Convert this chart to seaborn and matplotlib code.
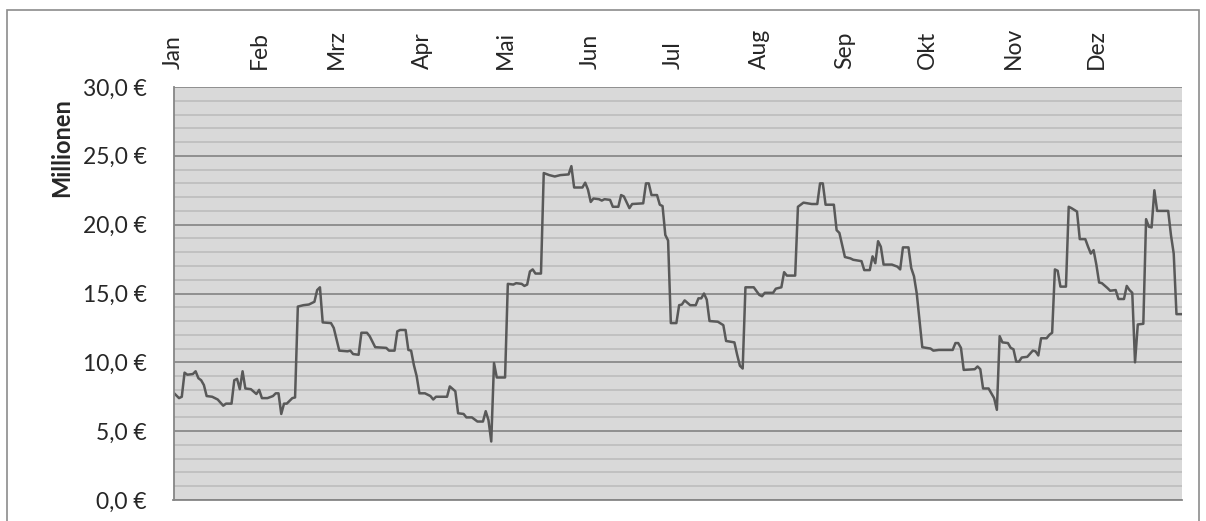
import matplotlib
matplotlib.use("Agg")
import matplotlib.pyplot as plt
import matplotlib.ticker as mticker
from matplotlib.patches import Rectangle
import numpy as np
import pandas as pd
import seaborn as sns

# Tag im Jahr (0 = 1. Januar) und Wert in Millionen Euro
tage = [0, 2, 3, 4, 5, 7, 8, 9, 10, 11, 12, 14, 16, 18, 19, 21, 22, 23, 24, 25,
        26, 28, 30, 31, 32, 34, 36, 37, 38, 39, 40, 41, 43, 44, 45, 47, 49, 51, 52, 53,
        54, 57, 58, 60, 63, 64, 65, 67, 68, 70, 71, 73, 77, 78, 80, 81, 82, 84, 85, 86,
        87, 88, 89, 91, 93, 94, 95, 99, 100, 102, 103, 105, 106, 108, 110, 112, 113, 114, 115, 116,
        117, 120, 121, 123, 124, 126, 127, 128, 129, 130, 131, 133, 134, 136, 138, 140, 143, 144, 145, 148,
        149, 150, 151, 152, 154, 155, 156, 158, 159, 161, 162, 163, 165, 166, 170, 171, 172, 173, 175, 176,
        177, 178, 179, 180, 182, 183, 184, 185, 187, 189, 190, 191, 192, 193, 194, 197, 199, 200, 203, 204,
        205, 206, 207, 210, 212, 213, 214, 217, 218, 220, 221, 222, 225, 226, 227, 228, 231, 233, 234, 235,
        236, 239, 240, 241, 243, 245, 246, 249, 250, 252, 253, 254, 255, 256, 257, 260, 262, 263, 264, 266,
        267, 268, 269, 271, 274, 275, 277, 282, 283, 284, 285, 286, 290, 291, 292, 293, 295, 297, 298, 299,
        300, 302, 303, 304, 305, 306, 307, 309, 311, 312, 313, 314, 316, 317, 318, 319, 320, 321, 323, 324,
        325, 327, 328, 330, 331, 332, 333, 334, 335, 336, 338, 339, 341, 342, 344, 345, 346, 347, 348, 349,
        351, 352, 353, 354, 355, 356, 360, 361, 362, 363, 365]
werte = [7.8, 7.4, 7.5, 9.25, 9.1, 9.15, 9.35, 8.85, 8.7, 8.35, 7.55, 7.5, 7.3, 6.85, 7.0, 7.0, 8.7, 8.8, 8.05, 9.35,
         8.1, 8.05, 7.7, 8.0, 7.4, 7.4, 7.55, 7.75, 7.75, 6.25, 7.0, 7.0, 7.4, 7.45, 14.05, 14.15, 14.2, 14.4, 15.25, 15.45,
         12.9, 12.85, 12.5, 10.85, 10.8, 10.85, 10.6, 10.55, 12.15, 12.15, 11.9, 11.1, 11.05, 10.85, 10.85, 12.25, 12.35, 12.35, 10.9, 10.85,
         9.8, 9.0, 7.75, 7.75, 7.55, 7.3, 7.5, 7.5, 8.25, 7.9, 6.3, 6.25, 6.0, 6.0, 5.7, 5.7, 6.45, 5.8, 4.25, 9.95,
         8.9, 8.9, 15.7, 15.65, 15.75, 15.7, 15.55, 15.65, 16.6, 16.75, 16.45, 16.45, 23.75, 23.6, 23.5, 23.6, 23.65, 24.25, 22.7, 22.7,
         23.05, 22.55, 21.65, 21.9, 21.85, 21.75, 21.85, 21.8, 21.3, 21.3, 22.15, 22.05, 21.2, 21.5, 21.55, 23.0, 23.0, 22.15, 22.15, 21.45,
         21.35, 19.25, 18.85, 12.85, 12.85, 14.15, 14.2, 14.5, 14.15, 14.15, 14.65, 14.65, 15.0, 14.55, 13.0, 12.95, 12.7, 11.55, 11.45, 10.55,
         9.75, 9.55, 15.45, 15.45, 14.9, 14.8, 15.05, 15.05, 15.35, 15.45, 16.55, 16.3, 16.3, 21.3, 21.45, 21.6, 21.5, 21.5, 23.0, 23.0,
         21.45, 21.45, 19.6, 19.4, 17.65, 17.55, 17.45, 17.35, 16.7, 16.7, 17.7, 17.2, 18.8, 18.4, 17.1, 17.1, 16.95, 16.75, 18.35, 18.35,
         16.85, 16.25, 15.0, 11.1, 11.0, 10.85, 10.9, 10.9, 11.4, 11.4, 11.05, 9.45, 9.5, 9.7, 9.5, 8.1, 8.1, 7.4, 6.55, 11.9,
         11.45, 11.4, 11.05, 10.95, 10.05, 10.05, 10.35, 10.4, 10.85, 10.8, 10.5, 11.75, 11.75, 12.0, 12.15, 16.75, 16.65, 15.5, 15.5, 21.3,
         21.2, 20.95, 18.95, 18.95, 18.4, 17.9, 18.15, 17.1, 15.8, 15.75, 15.4, 15.2, 15.25, 14.6, 14.6, 15.55, 15.25, 15.05, 10.0, 12.75,
         12.8, 20.4, 19.85, 19.8, 22.5, 21.0, 21.0, 19.25, 17.9, 13.5, 13.5]
monate = ["Jan", "Feb", "Mrz", "Apr", "Mai", "Jun", "Jul", "Aug", "Sep", "Okt", "Nov", "Dez"]

start = pd.Timestamp("2013-01-01")
df = pd.DataFrame({"datum": start + pd.to_timedelta(tage, unit="D"), "wert": werte})

sns.set_style("white")
plt.rcParams["font.family"] = ["Lato", "DejaVu Sans"]

fig = plt.figure(figsize=(12.06, 5.21), dpi=100)
ax = fig.add_axes([173.5 / 1206, 1 - 500 / 521, (1182 - 173.5) / 1206, (500 - 87) / 521])
ax.set_facecolor("#d9d9d9")

sns.lineplot(data=df, x="datum", y="wert", ax=ax, color="#595959", linewidth=1.8)

ax.set_ylim(0, 30)
ax.set_xlim(start, pd.Timestamp("2014-01-01"))
ax.yaxis.set_major_locator(mticker.MultipleLocator(5))
ax.yaxis.set_minor_locator(mticker.MultipleLocator(1))
ax.yaxis.set_major_formatter(mticker.FuncFormatter(lambda v, p: f"{v:.1f}".replace(".", ",") + " €"))
ax.grid(which="major", axis="y", color="#8a8a8a", linewidth=1.3)
ax.grid(which="minor", axis="y", color="#bdbdbd", linewidth=1.2)
ax.grid(which="major", axis="x", visible=False)
ax.set_axisbelow(True)

ax.xaxis.tick_top()
ax.set_xticks(pd.date_range(start, periods=12, freq="MS"))
ax.set_xticklabels(monate, rotation=90, fontsize=16.5)
ax.tick_params(axis="x", length=0, pad=13)
ax.tick_params(axis="y", which="both", length=0, pad=19, labelsize=16.5)
ax.set_xlabel("")
ax.set_ylabel("")

for s in ["top", "right"]:
    ax.spines[s].set_visible(False)
for s in ["left", "bottom"]:
    ax.spines[s].set_color("#868686")
    ax.spines[s].set_linewidth(1.3)

fig.text(62 / 1206, 1 - 148 / 521, "Millionen", rotation=90, fontsize=17,
         fontweight="bold", ha="center", va="center")

# Rahmen des Diagramms
fig.patches.append(Rectangle((7 / 1206, -0.1), (1199 - 7) / 1206, 1 - 10 / 521 + 0.1,
                             transform=fig.transFigure, facecolor="none",
                             edgecolor="#8c8c8c", linewidth=1.2))

fig.savefig("out.png", dpi=100, facecolor="white")
